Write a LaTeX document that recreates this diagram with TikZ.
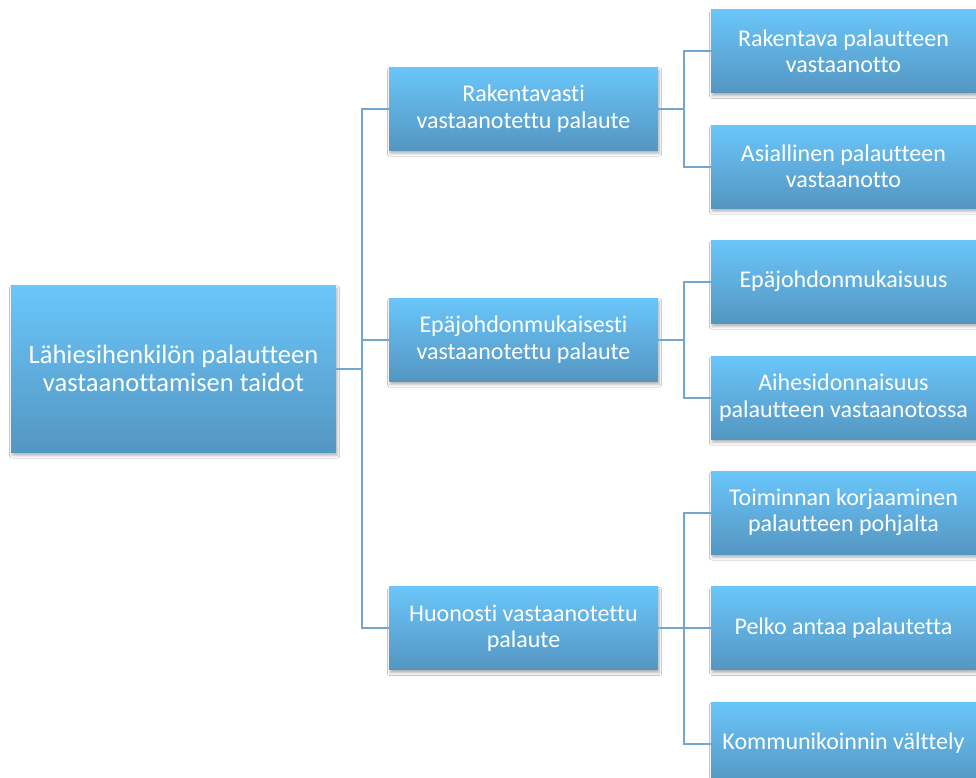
\documentclass[tikz,border=0pt]{standalone}
\usepackage{fontspec}
\setmainfont[Ligatures={NoCommon}]{Carlito}
\usetikzlibrary{shadows.blur,calc}
\definecolor{topc}{RGB}{106,198,250}
\definecolor{botc}{RGB}{84,150,194}
\definecolor{linec}{RGB}{113,166,206}
\tikzset{
 box/.style={rectangle, top color=topc, bottom color=botc, draw=none, text=white, align=center, inner sep=0pt,
   blur shadow={shadow xshift=0.8pt, shadow yshift=-2.6pt, shadow blur steps=6, shadow opacity=30, shadow blur radius=2pt}},
 rootbox/.style={box, minimum width=243.75pt, minimum height=125.25pt, font=\fontsize{19.9}{21.2}\selectfont},
 midbox/.style={box, minimum width=201.75pt, minimum height=62.25pt, font=\fontsize{18}{19.7}\selectfont},
 leafbox/.style={box, minimum width=198.75pt, minimum height=62.25pt, font=\fontsize{18}{19.7}\selectfont},
 conn/.style={draw=linec, line width=1.5pt, line join=miter}
}
\begin{document}
\begin{tikzpicture}[x=0.75pt, y=-0.75pt]
\useasboundingbox (0,0) rectangle (976,778);
\fill[white] (0,0) rectangle (976,778);
\coordinate (s0) at (362,368.5);
\coordinate (s1) at (684,108.5);
\coordinate (s2) at (684,339.5);
\coordinate (s3) at (684,628);
% nodes
\node[rootbox] (root) at (173.5,368.5) {Lähiesihenkilön palautteen\\vastaanottamisen taidot};
\node[midbox] (m1) at (523.5,108.5) {Rakentavasti\\vastaanotettu palaute};
\node[midbox] (m2) at (523.5,339.5) {Epäjohdonmukaisesti\\vastaanotettu palaute};
\node[midbox] (m3) at (523.5,628) {Huonosti vastaanotettu\\palaute};
\node[leafbox] (l1) at (843.5,51) {Rakentava palautteen\\vastaanotto};
\node[leafbox] (l2) at (843.5,166.5) {Asiallinen palautteen\\vastaanotto};
\node[leafbox] (l3) at (843.5,281.5) {Epäjohdonmukaisuus};
\node[leafbox] (l4) at (843.5,397.5) {Aihesidonnaisuus\\palautteen vastaanotossa};
\node[leafbox] (l5) at (843.5,512.5) {Toiminnan korjaaminen\\palautteen pohjalta};
\node[leafbox] (l6) at (843.5,628) {Pelko antaa palautetta};
\node[leafbox] (l7) at (843.5,743.5) {Kommunikoinnin välttely};
% connectors
\draw[conn] (root.east) -- (s0) |- (m1.west);
\draw[conn] (s0) |- (m2.west);
\draw[conn] (s0) |- (m3.west);
\draw[conn] (m1.east) -- (s1) |- (l1.west);
\draw[conn] (s1) |- (l2.west);
\draw[conn] (m2.east) -- (s2) |- (l3.west);
\draw[conn] (s2) |- (l4.west);
\draw[conn] (m3.east) -- (s3) |- (l5.west);
\draw[conn] (s3) -- (l6.west);
\draw[conn] (s3) |- (l7.west);
\end{tikzpicture}
\end{document}
